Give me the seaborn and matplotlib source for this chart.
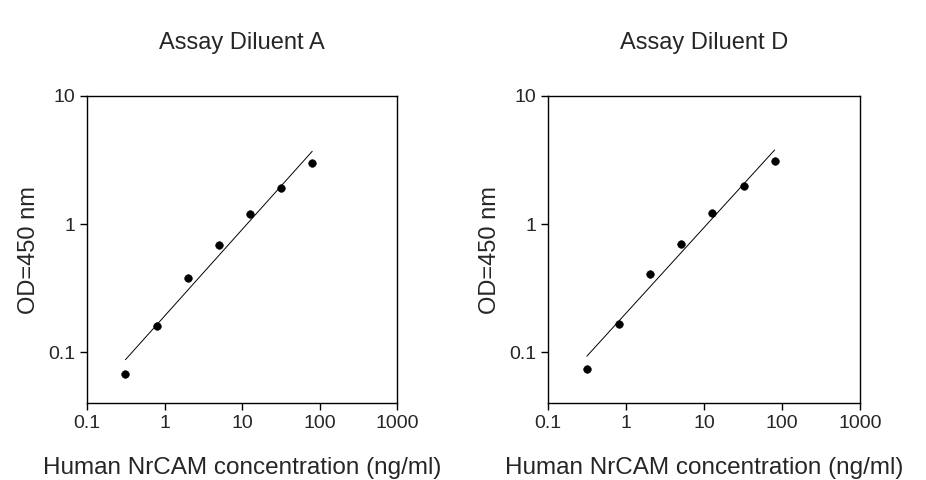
import matplotlib
matplotlib.use("Agg")
import matplotlib.pyplot as plt
import numpy as np
import seaborn as sns

sns.set_style("white")
plt.rcParams['font.family'] = ['Arial', 'Liberation Sans', 'DejaVu Sans']

conc = [0.3125, 0.8, 2.0, 5.0, 12.5, 32.0, 80.0]
od_a = [0.068, 0.16, 0.38, 0.69, 1.2, 1.9, 3.0]
od_d = [0.074, 0.165, 0.41, 0.70, 1.22, 2.0, 3.1]
titles = ["Assay Diluent A", "Assay Diluent D"]

fig = plt.figure(figsize=(9.26, 4.8), dpi=100)
boxes = [[0.094, 0.16, 0.335, 0.64], [0.592, 0.16, 0.337, 0.64]]

for box, od, title in zip(boxes, [od_a, od_d], titles):
    ax = fig.add_axes(box)
    sns.scatterplot(x=conc, y=od, ax=ax, color="black", s=30, marker="o",
                    edgecolor="black", zorder=3)
    # log-log linear fit
    k, b = np.polyfit(np.log10(conc), np.log10(od), 1)
    xf = np.array([conc[0], conc[-1]])
    ax.plot(xf, 10 ** (k * np.log10(xf) + b), color="black", lw=0.7)
    ax.set_xscale("log")
    ax.set_yscale("log")
    ax.set_xlim(0.1, 1000)
    ax.set_ylim(0.04, 10)
    ax.set_xticks([0.1, 1, 10, 100, 1000])
    ax.set_xticklabels(["0.1", "1", "10", "100", "1000"])
    ax.set_yticks([0.1, 1, 10])
    ax.set_yticklabels(["0.1", "1", "10"])
    ax.minorticks_off()
    ax.tick_params(direction="out", length=5, width=1, labelsize=14,
                   bottom=True, left=True, color="black")
    for s in ax.spines.values():
        s.set_color("black")
        s.set_linewidth(1)
    ax.set_title(title, fontsize=17, pad=34)
    ax.set_xlabel("Human NrCAM concentration (ng/ml)", fontsize=17.5, labelpad=18)
    ax.set_ylabel("OD=450 nm", fontsize=17, labelpad=6)

fig.savefig("out.png", dpi=100)
